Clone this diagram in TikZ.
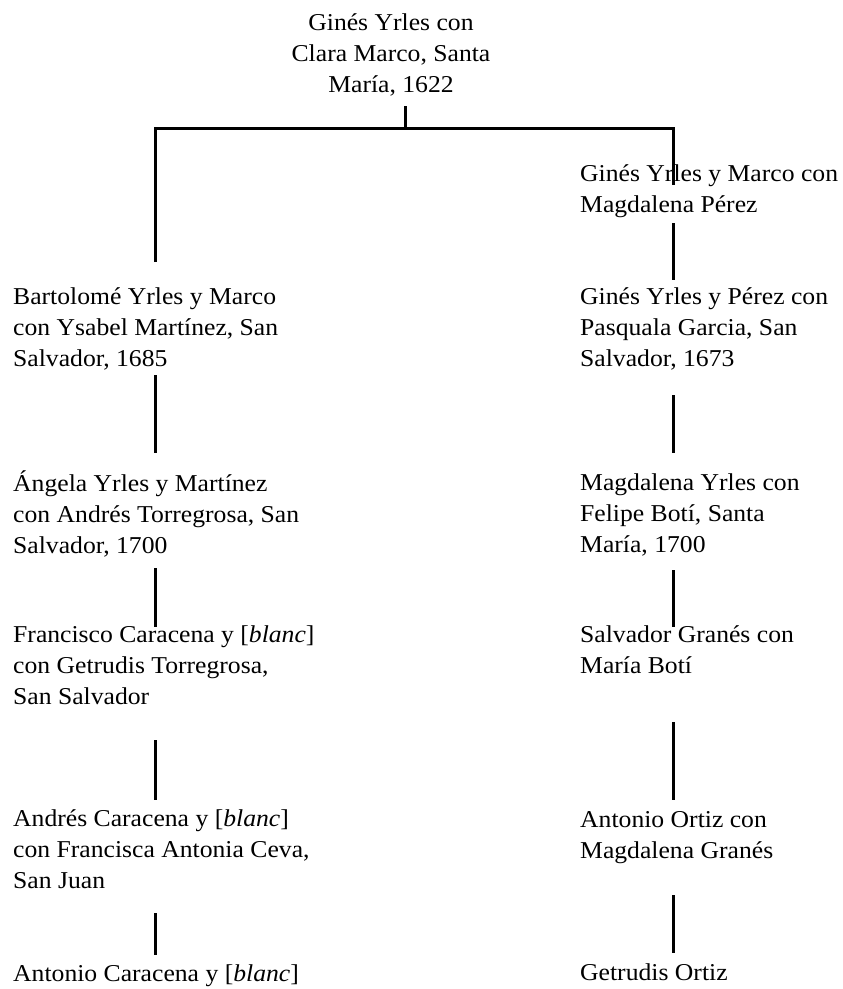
\documentclass[tikz,border=0pt]{standalone}
\usepackage{fontspec}
\setmainfont{Liberation Serif}[FakeStretch=1.06]
\usepackage{tikz}
\usetikzlibrary{calc}

\tikzset{
  person/.style={anchor=base west, align=left, inner sep=0pt,
    font=\fontsize{24.2}{30.6}\selectfont},
  link/.style={line width=3pt, black}
}

\begin{document}
\begin{tikzpicture}[x=1pt, y=-1pt]
    \useasboundingbox (0,0) rectangle (843,989);
    \coordinate (colL) at (155,0);
    \coordinate (colR) at (673,0);

    % the couple at the root (nodes sit on the baseline of their last line)
    \node[person, anchor=base, align=center] (gines) at (391,92)
      {Ginés Yrles con\\Clara Marco, Santa\\María, 1622};
    \coordinate (split) at ($(gines.base)+(14,36)$);

    % left branch
    \node[person] (bartolome) at (13,366)
      {Bartolomé Yrles y Marco\\con Ysabel Martínez, San\\Salvador, 1685};
    \node[person] (angela) at (13,553)
      {Ángela Yrles y Martínez\\con Andrés Torregrosa, San\\Salvador, 1700};
    \node[person] (francisco) at (13,704)
      {Francisco Caracena y [\textit{blanc}]\\con Getrudis Torregrosa,\\San Salvador};
    \node[person] (andres) at (13,888)
      {Andrés Caracena y [\textit{blanc}]\\con Francisca Antonia Ceva,\\San Juan};
    \node[person] (antonioC) at (13,981)
      {Antonio Caracena y [\textit{blanc}]};

    % right branch
    \node[person] (ginesM) at (580,212)
      {Ginés Yrles y Marco con\\Magdalena Pérez};
    \node[person] (ginesP) at (580,366)
      {Ginés Yrles y Pérez con\\Pasquala Garcia, San\\Salvador, 1673};
    \node[person] (magdalena) at (580,552)
      {Magdalena Yrles con\\Felipe Botí, Santa\\María, 1700};
    \node[person] (salvador) at (580,673)
      {Salvador Granés con\\María Botí};
    \node[person] (antonioO) at (580,858)
      {Antonio Ortiz con\\Magdalena Granés};
    \node[person] (getrudis) at (580,980)
      {Getrudis Ortiz};

    % fork below the root
    \draw[link] ($(split)+(0,-22)$) -- (split);
    \draw[link] ($(bartolome.base -| colL)+(0,-104)$) |- (split)
      -| ($(ginesM.base -| colR)+(0,-27)$);

    % descent lines
    \draw[link] ($(bartolome.base -| colL)+(0,9)$) -- ($(angela.base -| colL)+(0,-100)$);
    \draw[link] ($(angela.base -| colL)+(0,15)$) -- ($(francisco.base -| colL)+(0,-77)$);
    \draw[link] ($(francisco.base -| colL)+(0,36)$) -- ($(andres.base -| colL)+(0,-88)$);
    \draw[link] ($(andres.base -| colL)+(0,25)$) -- ($(antonioC.base -| colL)+(0,-26)$);

    \draw[link] ($(ginesM.base -| colR)+(0,11)$) -- ($(ginesP.base -| colR)+(0,-86)$);
    \draw[link] ($(ginesP.base -| colR)+(0,29)$) -- ($(magdalena.base -| colR)+(0,-99)$);
    \draw[link] ($(magdalena.base -| colR)+(0,18)$) -- ($(salvador.base -| colR)+(0,-46)$);
    \draw[link] ($(salvador.base -| colR)+(0,49)$) -- ($(antonioO.base -| colR)+(0,-58)$);
    \draw[link] ($(antonioO.base -| colR)+(0,37)$) -- ($(getrudis.base -| colR)+(0,-27)$);
\end{tikzpicture}
\end{document}
